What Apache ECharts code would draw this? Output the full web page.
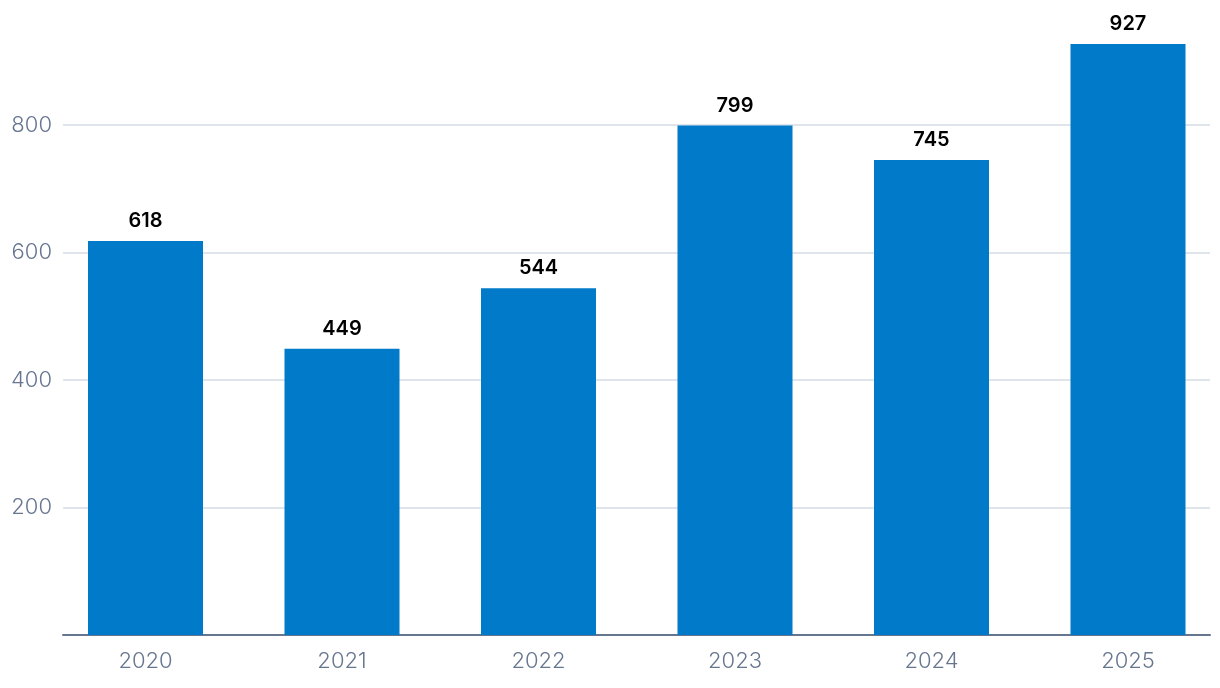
<!DOCTYPE html>
<html><head><meta charset="utf-8">
<script src="https://cdn.jsdelivr.net/npm/echarts@6/dist/echarts.min.js"></script>
<style>html,body{margin:0;padding:0;background:#fff}#c{width:1220px;height:688px}</style>
</head><body><div id="c"></div>
<script>
const categories = ['2020','2021','2022','2023','2024','2025'];
const values = [618, 449, 544, 799, 745, 927];
const yTicks = [0, 200, 400, 600, 800];
const yMax = 996;

const chart = echarts.init(document.getElementById('c'), null, {renderer:'canvas'});
const font = 'Inter';
chart.setOption({
  animation: false,
  grid: [
    {left: 63, right: 10, top: 0, bottom: 53, containLabel: false},
    {left: 145.5, right: 92, top: 0, bottom: 53, containLabel: false}
  ],
  xAxis: [
    {gridIndex: 0, type: 'category', data: categories,
     axisLine: {show: true, lineStyle: {color: '#66768f', width: 2}},
     axisTick: {show: false}, axisLabel: {show: false}, splitLine: {show: false}},
    {gridIndex: 1, type: 'category', data: categories, boundaryGap: false,
     axisLine: {show: false}, axisTick: {show: false},
     axisLabel: {color: '#66768f', fontFamily: font, fontSize: 22, fontWeight: 300, margin: 15}}
  ],
  yAxis: [
    {gridIndex: 0, type: 'value', min: yTicks[0], max: yMax, interval: 200,
     axisLine: {show: false}, axisTick: {show: false},
     axisLabel: {color: '#66768f', fontFamily: font, fontSize: 22, fontWeight: 300, margin: 11,
       showMaxLabel: false,
       formatter: v => (yTicks.indexOf(v) > 0) ? String(v) : ''},
     splitLine: {showMaxLine: false, showMinLine: false, lineStyle: {color: '#d6dbe4', width: 1.5}}},
    {gridIndex: 1, type: 'value', min: yTicks[0], max: yMax, interval: 200,
     show: false}
  ],
  series: [{
    type: 'bar', xAxisIndex: 1, yAxisIndex: 1, data: values,
    barWidth: 115, clip: false,
    itemStyle: {color: '#007ac9'},
    label: {show: true, position: 'top', distance: 10, color: '#000', fontFamily: font,
      fontSize: 20, fontWeight: 600}
  }]
});
</script></body></html>
